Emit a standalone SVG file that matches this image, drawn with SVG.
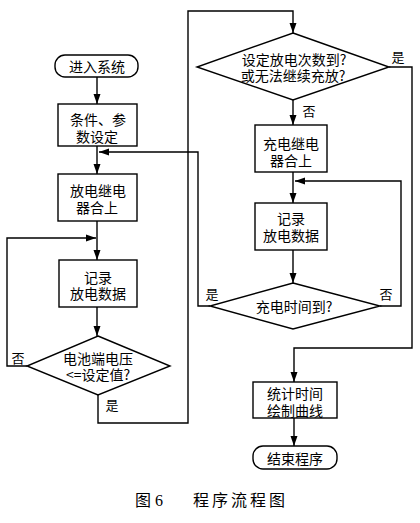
<svg xmlns="http://www.w3.org/2000/svg" width="420" height="523" viewBox="0 0 420 523">
<style>
.s{fill:#fff;stroke:#000;stroke-width:1.4}
.t{font-family:"Noto Sans CJK SC","Noto Sans",sans-serif;font-size:14px;fill:#000;text-anchor:middle;dominant-baseline:central}
.l{font-family:"Noto Sans CJK SC","Noto Sans",sans-serif;font-size:13px;fill:#000;text-anchor:middle;dominant-baseline:central}
.c{fill:none;stroke:#000;stroke-width:1.4}
</style>
<defs>
<marker id="a" viewBox="0 0 10 10" refX="10" refY="5" markerWidth="10" markerHeight="10" markerUnits="userSpaceOnUse" orient="auto">
<path d="M0,1.5 L10,5 L0,8.5 Z" fill="#000"/>
</marker>
</defs>
<rect width="420" height="523" fill="#fff"/>
<g id="connectors">
<path class="c" d="M97,77 V104" marker-end="url(#a)"/>
<path class="c" d="M97,146 V174" marker-end="url(#a)"/>
<path class="c" d="M210,306 H198 V152 H99" marker-end="url(#a)"/>
<path class="c" d="M97,221 V260" marker-end="url(#a)"/>
<path class="c" d="M27,366 H7 V238 H96" marker-end="url(#a)"/>
<path class="c" d="M97,307 V336" marker-end="url(#a)"/>
<path class="c" d="M98,395 V423 H188 V11 H293 V33" marker-end="url(#a)"/>
<path class="c" d="M293,100 V125" marker-end="url(#a)"/>
<path class="c" d="M293,172 V203" marker-end="url(#a)"/>
<path class="c" d="M380,306 H401 V181 H295" marker-end="url(#a)"/>
<path class="c" d="M293,250 V283" marker-end="url(#a)"/>
<path class="c" d="M389,67 H412 V348 H294 V382" marker-end="url(#a)"/>
<path class="c" d="M294,418 V446" marker-end="url(#a)"/>
<text class="l" x="18" y="357">否</text>
<text class="l" x="112" y="404">是</text>
<text class="l" x="398" y="56">是</text>
<text class="l" x="309" y="110">否</text>
<text class="l" x="212" y="293">是</text>
<text class="l" x="386" y="293">否</text>
</g>
<g id="start">
<rect class="s" x="55" y="55" width="83" height="22" rx="10"/>
<text class="t" x="97" y="66">进入系统</text>
</g>
<g id="setup">
<rect class="s" x="58" y="104" width="79" height="42"/>
<text class="t" x="98" y="119">条件、参</text>
<text class="t" x="97" y="136">数设定</text>
</g>
<g id="discharge-relay">
<rect class="s" x="58" y="174" width="79" height="47"/>
<text class="t" x="98" y="190">放电继电</text>
<text class="t" x="97" y="207">器合上</text>
</g>
<g id="record1">
<rect class="s" x="59" y="260" width="78" height="47"/>
<text class="t" x="98" y="277">记录</text>
<text class="t" x="98" y="293">放电数据</text>
</g>
<g id="voltage-check">
<polygon class="s" points="98,336 170,366 98,395 27,366"/>
<text class="t" x="98" y="358">电池端电压</text>
<text class="t" x="98" y="374">&lt;=设定值?</text>
</g>
<g id="count-check">
<polygon class="s" points="293,33 389,67 293,100 197,67"/>
<text class="t" x="294" y="59">设定放电次数到?</text>
<text class="t" x="293" y="75">或无法继续充放?</text>
</g>
<g id="charge-relay">
<rect class="s" x="255" y="125" width="72" height="47"/>
<text class="t" x="291" y="143">充电继电</text>
<text class="t" x="291" y="160">器合上</text>
</g>
<g id="record2">
<rect class="s" x="255" y="203" width="72" height="47"/>
<text class="t" x="291" y="218">记录</text>
<text class="t" x="291" y="235">放电数据</text>
</g>
<g id="time-check">
<polygon class="s" points="293,283 380,306 293,329 210,306"/>
<text class="t" x="294" y="306">充电时间到?</text>
</g>
<g id="stats">
<rect class="s" x="253" y="382" width="84" height="36"/>
<text class="t" x="295" y="393">统计时间</text>
<text class="t" x="295" y="410">绘制曲线</text>
</g>
<g id="end">
<rect class="s" x="253" y="446" width="84" height="23" rx="10"/>
<text class="t" x="295" y="458">结束程序</text>
</g>
<g id="caption">
<text font-family="'Liberation Serif','Noto Sans CJK SC',serif" font-size="16" x="135" y="506">图 6</text>
<text font-family="'Noto Sans CJK SC',sans-serif" font-size="16" letter-spacing="3" x="193" y="506">程序流程图</text>
</g>
</svg>
